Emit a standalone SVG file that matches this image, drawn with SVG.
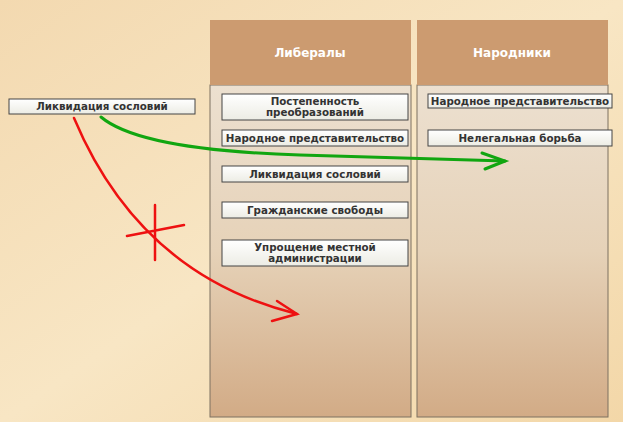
<svg xmlns="http://www.w3.org/2000/svg" width="623" height="422" viewBox="0 0 623 422">
<defs>
<linearGradient id="bg" x1="0" y1="0" x2="1" y2="1"><stop offset="0" stop-color="#f3d9b0"/><stop offset="0.5" stop-color="#f8e6c4"/><stop offset="1" stop-color="#f3d7a8"/></linearGradient>
<linearGradient id="col" x1="0" y1="0" x2="0" y2="1"><stop offset="0" stop-color="#ece0d0"/><stop offset="0.5" stop-color="#e6d2b8"/><stop offset="1" stop-color="#d2ab86"/></linearGradient>
<linearGradient id="box" x1="0" y1="0" x2="0" y2="1"><stop offset="0" stop-color="#ffffff"/><stop offset="1" stop-color="#ecece4"/></linearGradient>
</defs>
<style>
.col{fill:url(#col);stroke:#7d7060;stroke-width:1}
.hdr{fill:#cc9b70}
.ht{font-family:"DejaVu Sans",sans-serif;font-weight:bold;font-size:12px;fill:#fff;text-anchor:middle}
.b{fill:url(#box);stroke:#444;stroke-width:1}
.t{font-family:"DejaVu Sans",sans-serif;font-weight:bold;font-size:10.3px;fill:#333;text-anchor:middle}
.r{fill:none;stroke:#ee1111;stroke-width:2.5;stroke-linecap:round}
.g{fill:none;stroke:#11a611;stroke-width:3;stroke-linecap:round}
</style>
<rect width="623" height="422" fill="url(#bg)"/>
<g id="liberaly">
<rect class="col" x="210" y="85" width="201" height="332"/>
<rect class="hdr" x="210" y="20" width="201" height="65"/>
<text class="ht" x="310" y="57">Либералы</text>
</g>
<g id="narodniki">
<rect class="col" x="417" y="85" width="191" height="332"/>
<rect class="hdr" x="417" y="20" width="191" height="65"/>
<text class="ht" x="512" y="57">Народники</text>
</g>
<g id="l1"><rect class="b" x="222" y="94" width="186" height="26"/><text class="t" x="315" y="105">Постепенность</text><text class="t" x="315" y="116">преобразований</text></g>
<g id="l2"><rect class="b" x="222" y="130" width="186" height="16"/><text class="t" x="315" y="142">Народное представительство</text></g>
<g id="l3"><rect class="b" x="222" y="166" width="186" height="16"/><text class="t" x="315" y="178">Ликвидация сословий</text></g>
<g id="l4"><rect class="b" x="222" y="202" width="186" height="16"/><text class="t" x="315" y="214">Гражданские свободы</text></g>
<g id="l5"><rect class="b" x="222" y="240" width="186" height="26"/><text class="t" x="315" y="251">Упрощение местной</text><text class="t" x="315" y="262">администрации</text></g>
<g id="n1"><rect class="b" x="428" y="94" width="184" height="14"/><text class="t" x="520" y="105">Народное представительство</text></g>
<g id="n2"><rect class="b" x="428" y="130" width="184" height="16"/><text class="t" x="520" y="142">Нелегальная борьба</text></g>
<g id="src"><rect class="b" x="9" y="99" width="186" height="15"/><text class="t" x="102" y="110">Ликвидация сословий</text></g>
<g id="connectors">
<path class="r" d="M74,118 Q140,275 297,314"/>
<path class="r" d="M277,301 L297,314 L272,321"/>
<path class="r" d="M155,205 L155,260 M127,236 L184,225"/>
<path class="g" d="M101,117 Q140,150 300,155 L505,161"/>
<path class="g" d="M482,153 L505,161 L485,169"/>
</g>
</svg>
